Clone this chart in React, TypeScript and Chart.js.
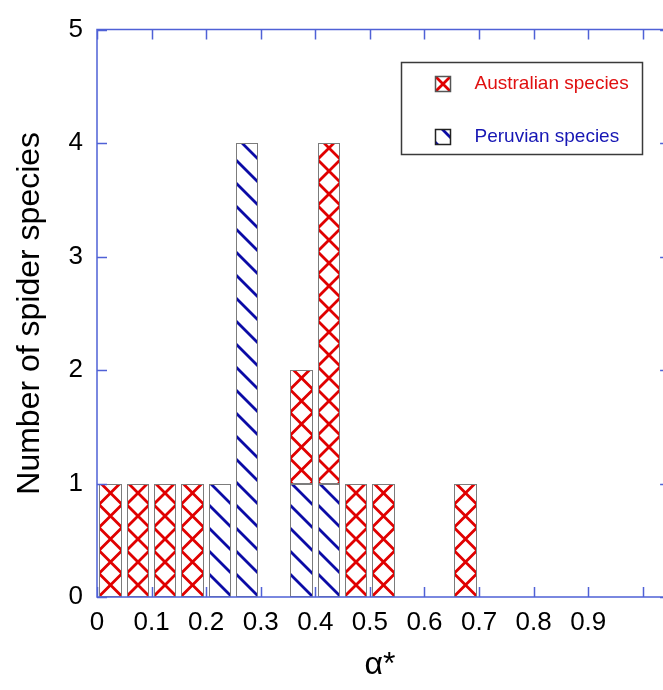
import React, { useEffect, useRef } from 'react';
import { Chart, registerables } from 'chart.js';

Chart.register(...registerables);

// ---- data ----
const binCenters = [0.025, 0.075, 0.125, 0.175, 0.225, 0.275, 0.325, 0.375, 0.425, 0.475, 0.525, 0.575, 0.625, 0.675];
const peruvianCounts = [0, 0, 0, 0, 1, 4, 0, 1, 1, 0, 0, 0, 0, 0];
const australianCounts = [1, 1, 1, 1, 0, 0, 0, 1, 3, 1, 1, 0, 0, 1];
const xTickValues = [0, 0.1, 0.2, 0.3, 0.4, 0.5, 0.6, 0.7, 0.8, 0.9, 1.0];
const xTickLabels = ['0', '0.1', '0.2', '0.3', '0.4', '0.5', '0.6', '0.7', '0.8', '0.9', ''];
const yTickValues = [0, 1, 2, 3, 4, 5];
const legendLabels = ['Australian species', 'Peruvian species'];
const xTitle = 'α*';
const yTitle = 'Number of spider species';

// ---- styling ----
const X_VIEW_MAX = 1.037;
const X_FRAME_MAX = 1.05;
const AXIS = '#4f61d6';
const RED = '#e00000';
const BLUE = '#0b0ba6';
const RED_TEXT = '#e01010';
const BLUE_TEXT = '#1616b4';
const BAR_BORDER = '#7c7c7c';
const FONT = "'Liberation Sans', Arial, Helvetica, sans-serif";
const PERIOD = 23;

const hatchPlugin = {
  id: 'hatchBars',
  afterDatasetsDraw(chart: any) {
    const ctx = chart.ctx;
    const area = chart.chartArea;
    chart.data.datasets.forEach((ds: any, di: number) => {
      const meta = chart.getDatasetMeta(di);
      meta.data.forEach((el: any, i: number) => {
        const raw = ds.data[i];
        if (!raw || raw.y == null) return;
        const p = el.getProps(['x', 'y', 'base', 'width'], true);
        const l = Math.round(p.x - p.width / 2);
        const r = Math.round(p.x + p.width / 2);
        const t = Math.round(Math.min(p.y, p.base));
        const b = Math.round(Math.max(p.y, p.base));
        if (b - t < 1) return;
        ctx.save();
        ctx.beginPath();
        ctx.rect(l, t, r - l, b - t);
        ctx.clip();
        ctx.fillStyle = '#ffffff';
        ctx.fillRect(l, t, r - l, b - t);
        ctx.lineWidth = 2.8;
        ctx.beginPath();
        if (ds.hatch === 'cross') {
          ctx.strokeStyle = RED;
          const cx = (l + r) / 2;
          const y0 = area.bottom - 12;
          for (let yc = y0 + PERIOD * 2; yc > t - PERIOD * 3; yc -= PERIOD) {
            ctx.moveTo(l, yc + (l - cx));
            ctx.lineTo(r, yc + (r - cx));
            ctx.moveTo(l, yc - (l - cx));
            ctx.lineTo(r, yc - (r - cx));
          }
        } else {
          ctx.strokeStyle = BLUE;
          const y0 = area.bottom;
          for (let yc = y0 + PERIOD; yc > t - PERIOD * 3; yc -= PERIOD) {
            ctx.moveTo(l, yc);
            ctx.lineTo(r, yc + (r - l));
          }
        }
        ctx.stroke();
        ctx.restore();
        ctx.save();
        ctx.strokeStyle = BAR_BORDER;
        ctx.lineWidth = 1;
        ctx.strokeRect(l + 0.5, t + 0.5, r - l - 1, b - t - 1);
        ctx.restore();
      });
    });
  },
};

const framePlugin = {
  id: 'frameAndLegend',
  afterDraw(chart: any) {
    const { ctx, chartArea: a } = chart;
    const xs = chart.scales.x;
    const ys = chart.scales.y;
    const rightX = xs.getPixelForValue(X_FRAME_MAX);
    const TL = 10;
    ctx.save();
    ctx.strokeStyle = AXIS;
    ctx.lineWidth = 1.5;
    ctx.beginPath();
    ctx.moveTo(rightX, a.top);
    ctx.lineTo(a.left, a.top);
    ctx.lineTo(a.left, a.bottom);
    ctx.lineTo(rightX, a.bottom);
    ctx.lineTo(rightX, a.top);
    xTickValues.forEach((v) => {
      const px = Math.round(xs.getPixelForValue(v)) + 0.5;
      ctx.moveTo(px, a.bottom);
      ctx.lineTo(px, a.bottom - TL);
      ctx.moveTo(px, a.top);
      ctx.lineTo(px, a.top + TL);
    });
    yTickValues.forEach((v) => {
      const py = Math.round(ys.getPixelForValue(v)) + 0.5;
      ctx.moveTo(a.left, py);
      ctx.lineTo(a.left + TL, py);
      ctx.moveTo(rightX, py);
      ctx.lineTo(rightX - TL, py);
    });
    ctx.stroke();
    ctx.restore();

    // legend
    const bx = Math.round(a.left + 304) + 0.5;
    const by = Math.round(a.top + 32) + 0.5;
    const bw = 241;
    const bh = 92;
    ctx.save();
    ctx.strokeStyle = '#3a3a3a';
    ctx.lineWidth = 1.5;
    ctx.strokeRect(bx, by, bw, bh);
    const ix = Math.round(bx + 33);
    const S = 16;
    const rows = [by + 21, by + 74];
    // Australian icon
    let iy = Math.round(rows[0] - S / 2);
    ctx.fillStyle = '#fff';
    ctx.fillRect(ix, iy, S, S);
    ctx.save();
    ctx.beginPath();
    ctx.rect(ix, iy, S, S);
    ctx.clip();
    ctx.strokeStyle = RED;
    ctx.lineWidth = 2.8;
    ctx.beginPath();
    ctx.moveTo(ix, iy);
    ctx.lineTo(ix + S, iy + S);
    ctx.moveTo(ix + S, iy);
    ctx.lineTo(ix, iy + S);
    ctx.stroke();
    ctx.restore();
    ctx.strokeStyle = '#555';
    ctx.lineWidth = 1.5;
    ctx.strokeRect(ix + 0.5, iy + 0.5, S - 1, S - 1);
    // Peruvian icon
    iy = Math.round(rows[1] - S / 2);
    ctx.save();
    ctx.beginPath();
    ctx.rect(ix, iy, S, S);
    ctx.clip();
    ctx.strokeStyle = BLUE;
    ctx.lineWidth = 2.8;
    ctx.beginPath();
    ctx.moveTo(ix + 7, iy);
    ctx.lineTo(ix + 7 + S, iy + S);
    ctx.moveTo(ix - 13, iy);
    ctx.lineTo(ix - 13 + S + 13, iy + S + 13);
    ctx.stroke();
    ctx.restore();
    ctx.strokeStyle = '#222';
    ctx.lineWidth = 1.5;
    ctx.strokeRect(ix + 0.5, iy + 0.5, S - 1, S - 1);
    // texts
    ctx.font = `19px ${FONT}`;
    ctx.textBaseline = 'middle';
    ctx.textAlign = 'left';
    ctx.fillStyle = RED_TEXT;
    ctx.fillText(legendLabels[0], bx + 73, rows[0]);
    ctx.fillStyle = BLUE_TEXT;
    ctx.fillText(legendLabels[1], bx + 73, rows[1]);
    ctx.restore();
  },
};

export default function App() {
  const ref = useRef<HTMLCanvasElement | null>(null);
  useEffect(() => {
    if (!ref.current) return;
    Chart.defaults.font.family = FONT;
    const chart = new Chart(ref.current, {
      type: 'bar',
      data: {
        datasets: [
          {
            label: 'Peruvian species',
            data: binCenters.map((c, i) => ({ x: c, y: peruvianCounts[i] || null })),
            backgroundColor: '#ffffff',
            borderWidth: 0,
            hatch: 'diag',
          } as any,
          {
            label: 'Australian species',
            data: binCenters.map((c, i) => ({ x: c, y: australianCounts[i] || null })),
            backgroundColor: '#ffffff',
            borderWidth: 0,
            hatch: 'cross',
          } as any,
        ],
      },
      options: {
        animation: false,
        responsive: false,
        barPercentage: 0.82,
        categoryPercentage: 1,
        layout: { padding: { top: 22, left: 0, right: 0, bottom: 0 } },
        plugins: { legend: { display: false }, tooltip: { enabled: false } },
        scales: {
          x: {
            type: 'linear',
            stacked: true,
            offset: false,
            min: 0,
            max: X_VIEW_MAX,
            grid: { display: false, drawTicks: false, offset: false },
            border: { display: false },
            afterBuildTicks: (s: any) => {
              s.ticks = xTickValues.map((v) => ({ value: v }));
            },
            afterFit: (s: any) => {
              s.height = 93;
            },
            ticks: {
              autoSkip: false,
              maxRotation: 0,
              padding: 10,
              color: '#000',
              font: { size: 26 },
              callback: (_v: any, i: number) => xTickLabels[i],
            },
            title: {
              display: true,
              text: xTitle,
              color: '#000',
              font: { size: 32 },
              padding: { top: 0, bottom: 6 },
            },
          },
          y: {
            stacked: true,
            min: 0,
            max: 5,
            grid: { display: false, drawTicks: false },
            border: { display: false },
            afterBuildTicks: (s: any) => {
              s.ticks = yTickValues.map((v) => ({ value: v }));
            },
            afterFit: (s: any) => {
              s.width = 97;
            },
            ticks: {
              padding: 14,
              color: '#000',
              font: { size: 26 },
              callback: (v: any) => String(v),
            },
            title: {
              display: true,
              text: yTitle,
              color: '#000',
              font: { size: 32 },
              padding: { top: 11, bottom: 0 },
            },
          },
        },
      } as any,
      plugins: [hatchPlugin, framePlugin],
    });
    return () => chart.destroy();
  }, []);
  return (
    <div style={{ position: 'fixed', left: 0, top: 0, width: 663, height: 690, overflow: 'hidden', background: '#fff' }}>
      <canvas ref={ref} width={663} height={690} style={{ display: 'block' }} />
    </div>
  );
}
